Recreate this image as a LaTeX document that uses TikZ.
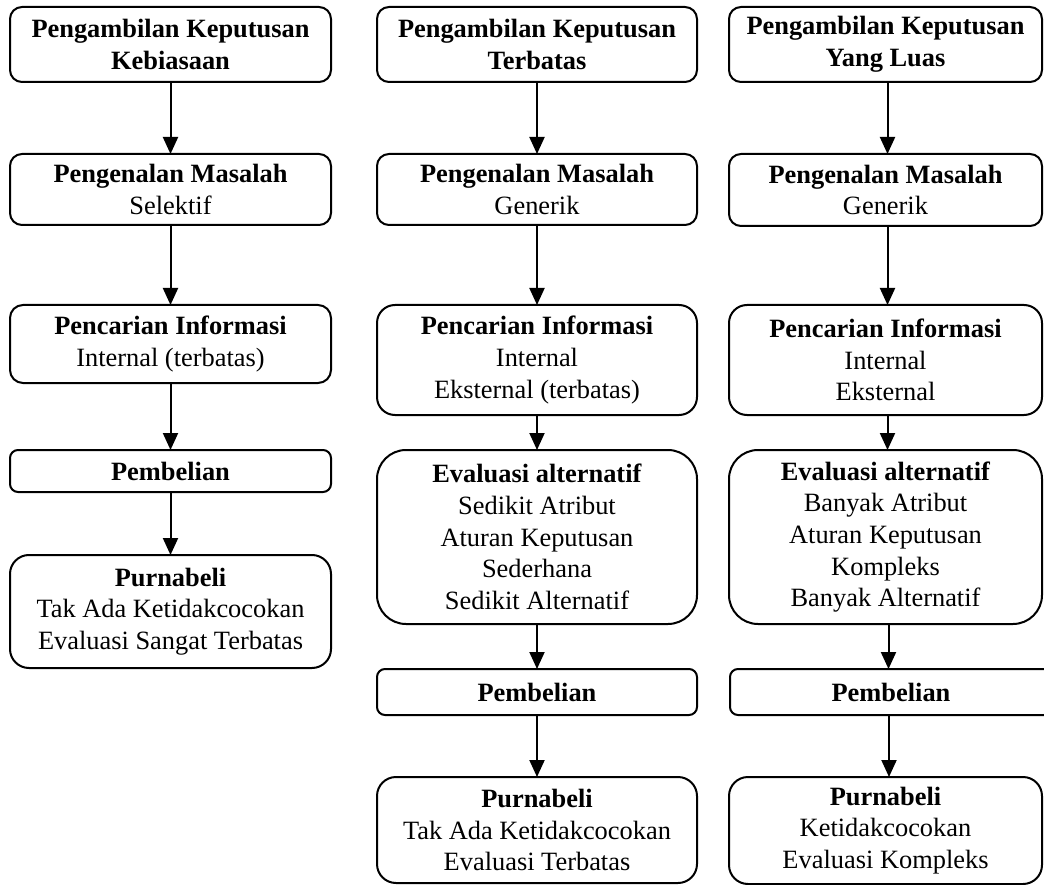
\documentclass[tikz,border=0pt]{standalone}
\usepackage{fontspec}
\setmainfont{Liberation Serif}
\usetikzlibrary{arrows.meta}
\begin{document}
\begin{tikzpicture}[x=1pt,y=-1pt,
  box/.style={draw, line width=2pt, align=center, inner sep=0pt,
    font=\fontsize{26.4}{31.7}\selectfont},
  arr/.style={line width=2pt, -{Triangle[length=17pt,width=15pt]}, shorten >=-1pt}]
\useasboundingbox (0,0) rectangle (1044,885);
\clip (0,0) rectangle (1044,885);
% column 1
\node[box, minimum width=321pt, minimum height=75pt, rounded corners=12pt] (a1) at (170.5,44.5) {\textbf{Pengambilan Keputusan}\\\textbf{Kebiasaan}};
\node[box, minimum width=321pt, minimum height=71pt, rounded corners=12pt] (a2) at (170.5,189.5) {\textbf{Pengenalan Masalah}\\Selektif};
\node[box, minimum width=321pt, minimum height=78pt, rounded corners=13pt] (a3) at (170.5,344) {\textbf{Pencarian Informasi}\\Internal (terbatas)};
\node[box, minimum width=321pt, minimum height=42pt, rounded corners=8pt] (a4) at (170.5,471) {\textbf{Pembelian}};
\node[box, minimum width=321pt, minimum height=113pt, rounded corners=19pt] (a5) at (170.5,611.5) {\textbf{Purnabeli}\\Tak Ada Ketidakcocokan\\Evaluasi Sangat Terbatas};
% column 2
\node[box, minimum width=320pt, minimum height=75pt, rounded corners=12pt] (b1) at (537,44.5) {\textbf{Pengambilan Keputusan}\\\textbf{Terbatas}};
\node[box, minimum width=320pt, minimum height=71pt, rounded corners=12pt] (b2) at (537,189.5) {\textbf{Pengenalan Masalah}\\Generik};
\node[box, minimum width=320pt, minimum height=110pt, rounded corners=18pt] (b3) at (537,360) {\textbf{Pencarian Informasi}\\Internal\\Eksternal (terbatas)};
\node[box, minimum width=320pt, minimum height=174pt, rounded corners=29pt] (b4) at (537,537) {\textbf{Evaluasi alternatif}\\Sedikit Atribut\\Aturan Keputusan\\Sederhana\\Sedikit Alternatif};
\node[box, minimum width=320pt, minimum height=46pt, rounded corners=8pt] (b5) at (537,692) {\textbf{Pembelian}};
\node[box, minimum width=320pt, minimum height=106pt, rounded corners=19pt] (b6) at (537,830) {\textbf{Purnabeli}\\Tak Ada Ketidakcocokan\\Evaluasi Terbatas};
% column 3
\node[box, minimum width=313pt, minimum height=75pt, rounded corners=12pt] (c1) at (885.5,44.5) {\textbf{Pengambilan Keputusan}\\\textbf{Yang Luas}};
\node[box, minimum width=313pt, minimum height=72pt, rounded corners=12pt] (c2) at (885.5,190) {\textbf{Pengenalan Masalah}\\Generik};
\node[box, minimum width=313pt, minimum height=110pt, rounded corners=18pt] (c3) at (885.5,360) {\textbf{Pencarian Informasi}\\Internal\\Eksternal};
\node[box, minimum width=313pt, minimum height=174pt, rounded corners=29pt] (c4) at (885.5,537) {\textbf{Evaluasi alternatif}\\Banyak Atribut\\Aturan Keputusan\\Kompleks\\Banyak Alternatif};
\node[box, minimum width=322pt, minimum height=46pt, rounded corners=8pt] (c5) at (891,692) {\textbf{Pembelian}};
\node[box, minimum width=313pt, minimum height=107pt, rounded corners=19pt] (c6) at (885.5,830.5) {\textbf{Purnabeli}\\Ketidakcocokan\\Evaluasi Kompleks};
% arrows
\draw[arr] (a1) -- (a2);
\draw[arr] (a2) -- (a3);
\draw[arr] (a3) -- (a4);
\draw[arr] (a4) -- (a5);
\draw[arr] (b1) -- (b2);
\draw[arr] (b2) -- (b3);
\draw[arr] (b3) -- (b4);
\draw[arr] (b4) -- (b5);
\draw[arr] (b5) -- (b6);
\draw[arr] (c1.south) ++(2,0) coordinate (c1s) (c1s) -- (c1s |- c2.north);
\draw[arr] (c2.south) ++(2,0) coordinate (c2s) (c2s) -- (c2s |- c3.north);
\draw[arr] (c3.south) ++(2,0) coordinate (c3s) (c3s) -- (c3s |- c4.north);
\draw[arr] (c4.south) ++(3,0) coordinate (c4s) (c4s) -- (c4s |- c5.north);
\draw[arr] (c5.south) ++(-2,0) coordinate (c5s) (c5s) -- (c5s |- c6.north);
\end{tikzpicture}
\end{document}
